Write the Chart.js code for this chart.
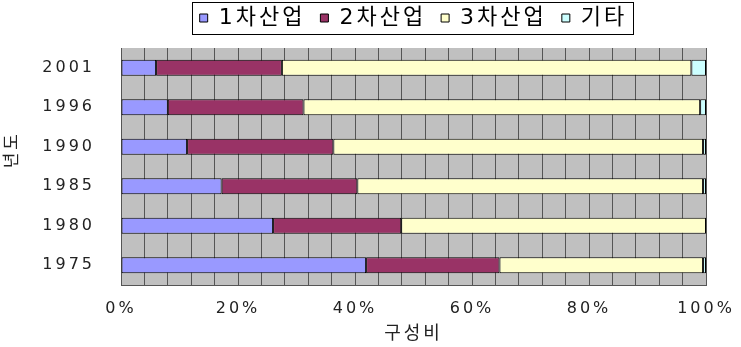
<!DOCTYPE html>
<html lang="ko">
<head>
    <meta charset="UTF-8">
    <title>산업별 구성비</title>
    <script src="https://cdn.jsdelivr.net/npm/chart.js"></script>
    <style>
        body { margin: 0; background: #fff; }
    </style>
</head>
<body>
    <div style="width:741px;height:347px"><canvas id="barChart"></canvas></div>

    <script>
        // data (percent of total)
        const years = ['2001', '1996', '1990', '1985', '1980', '1975'];
        const primary = [6.0, 8.0, 11.3, 17.2, 26.0, 41.9];
        const secondary = [21.5, 23.2, 25.0, 23.2, 21.9, 22.8];
        const tertiary = [70.0, 67.8, 63.2, 59.1, 52.1, 34.8];
        const others = [2.5, 1.0, 0.5, 0.5, 0.0, 0.5];
        const seriesNames = ['1차산업', '2차산업', '3차산업', '기타'];
        const tickStep = 4;
        const labelStep = 20;

        const fontFamily = '"DejaVu Sans", "Noto Sans CJK KR", sans-serif';

        // wide letters, like the original
        const spacingPlugin = {
            id: 'spacing',
            beforeLayout(chart) { chart.ctx.letterSpacing = '3px'; },
            beforeDraw(chart) { chart.ctx.letterSpacing = '3px'; }
        };

        // gray plot area
        const plotBackground = {
            id: 'plotBackground',
            beforeDraw(chart) {
                const { ctx, chartArea: a } = chart;
                ctx.save();
                ctx.fillStyle = '#c0c0c0';
                ctx.fillRect(a.left, a.top, a.right - a.left, a.bottom - a.top);
                ctx.restore();
            }
        };

        // frame round the legend
        const legendFrame = {
            id: 'legendFrame',
            afterDraw(chart) {
                const boxes = chart.legend.legendHitBoxes;
                if (!boxes || !boxes.length) return;
                const left = Math.min(...boxes.map(b => b.left)) - 8;
                const right = Math.max(...boxes.map(b => b.left + b.width)) + 5;
                const top = boxes[0].top - 5;
                const bottom = boxes[0].top + boxes[0].height + 5;
                const ctx = chart.ctx;
                ctx.save();
                ctx.strokeStyle = '#000';
                ctx.lineWidth = 1;
                ctx.strokeRect(Math.round(left) + 0.5, Math.round(top) + 0.5, Math.round(right - left), Math.round(bottom - top));
                ctx.restore();
            }
        };

        function makeSet(label, data, color) {
            return {
                label: label,
                data: data,
                backgroundColor: color,
                borderColor: '#000',
                borderWidth: 1,
                borderSkipped: false,
                categoryPercentage: 1,
                barPercentage: 0.4
            };
        }

        const ctx = document.getElementById('barChart').getContext('2d');
        const barChart = new Chart(ctx, {
            type: 'bar',
            data: {
                labels: years,
                datasets: [
                    makeSet(seriesNames[0], primary, '#9999ff'),
                    makeSet(seriesNames[1], secondary, '#993366'),
                    makeSet(seriesNames[2], tertiary, '#ffffcc'),
                    makeSet(seriesNames[3], others, '#ccffff')
                ]
            },
            options: {
                indexAxis: 'y',
                responsive: true,
                maintainAspectRatio: false,
                animation: false,
                layout: { padding: { top: -8, right: 35, left: 0, bottom: 0 } },
                plugins: {
                    legend: {
                        position: 'top',
                        fullSize: false,
                        weight: 3000,
                        labels: {
                            boxWidth: 8,
                            boxHeight: 8,
                            padding: 15,
                            color: '#000',
                            font: { family: fontFamily, size: 22 }
                        }
                    },
                    // empty title, only used as a gap under the legend
                    title: {
                        display: true,
                        text: '',
                        font: { size: 1 },
                        padding: { top: 0, bottom: 7.8 }
                    },
                    tooltip: { enabled: false }
                },
                scales: {
                    x: {
                        stacked: true,
                        min: 0,
                        max: 100,
                        ticks: {
                            stepSize: tickStep,
                            autoSkip: false,
                            maxRotation: 0,
                            padding: 14,
                            color: '#222',
                            font: { family: fontFamily, size: 16 },
                            callback: v => (v % labelStep === 0 ? v + '%' : '')
                        },
                        grid: { color: '#555', lineWidth: 1, drawTicks: false },
                        border: { color: '#555' },
                        title: {
                            display: true,
                            text: '구성비',
                            color: '#222',
                            font: { family: fontFamily, size: 18 },
                            padding: { top: 4, bottom: 2 }
                        },
                        afterFit: s => {
                            s.height = 62;
                            s.paddingLeft = 0;
                            s.paddingRight = 0;
                        }
                    },
                    y: {
                        stacked: true,
                        ticks: {
                            padding: 18,
                            color: '#222',
                            font: { family: fontFamily, size: 16 }
                        },
                        grid: { display: false },
                        border: { color: '#555' },
                        title: {
                            display: true,
                            text: '    년도',
                            color: '#222',
                            font: { family: fontFamily, size: 17 },
                            padding: { top: 2, bottom: 0 }
                        },
                        afterFit: s => { s.width = 121; }
                    }
                }
            },
            plugins: [spacingPlugin, plotBackground, legendFrame]
        });
    </script>
</body>
</html>
